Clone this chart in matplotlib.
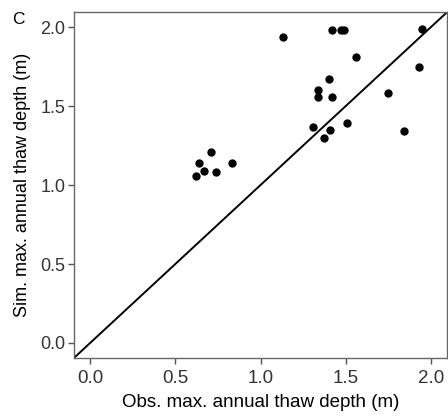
import matplotlib
matplotlib.use("Agg")
import matplotlib.pyplot as plt

plt.rcParams['font.family'] = ['Liberation Sans', 'DejaVu Sans']

# observed vs simulated max. annual thaw depth (m)
obs = [0.62, 0.64, 0.67, 0.71, 0.74, 0.83, 1.13, 1.42, 1.47, 1.49, 1.95,
       1.56, 1.93, 1.40, 1.34, 1.34, 1.42, 1.75, 1.31, 1.51, 1.41, 1.37, 1.84]
sim = [1.06, 1.14, 1.09, 1.21, 1.08, 1.14, 1.94, 1.98, 1.98, 1.98, 1.99,
       1.81, 1.75, 1.67, 1.60, 1.56, 1.56, 1.58, 1.37, 1.39, 1.35, 1.30, 1.34]
ticks = [0.0, 0.5, 1.0, 1.5, 2.0]
lims = (-0.095, 2.095)

fig = plt.figure(figsize=(4.48, 4.17), dpi=100)
ax = fig.add_axes([0.165, 0.1415, 0.833, 0.8295])

ax.plot(lims, lims, color='black', lw=1.4, zorder=1)
ax.scatter(obs, sim, s=36, color='black', zorder=2, linewidths=0)

ax.set_xlim(lims)
ax.set_ylim(lims)
ax.set_xticks(ticks)
ax.set_yticks(ticks)
ax.set_xticklabels(['%.1f' % t for t in ticks])
ax.set_yticklabels(['%.1f' % t for t in ticks])
ax.tick_params(length=4, width=1, color='#555555', labelcolor='#333333')
ax.tick_params(axis='x', labelsize=13.5, pad=5)
ax.tick_params(axis='y', labelsize=13, pad=2)
for s in ax.spines.values():
    s.set_color('#666666')
    s.set_linewidth(1)

ax.set_xlabel('Obs. max. annual thaw depth (m)', fontsize=13.5, labelpad=5)
ax.set_ylabel('Sim. max. annual thaw depth (m)', fontsize=13, labelpad=7)
fig.text(0.027, 0.972, 'C', fontsize=12.5, va='top', ha='left')

fig.savefig('out.png', dpi=100)
